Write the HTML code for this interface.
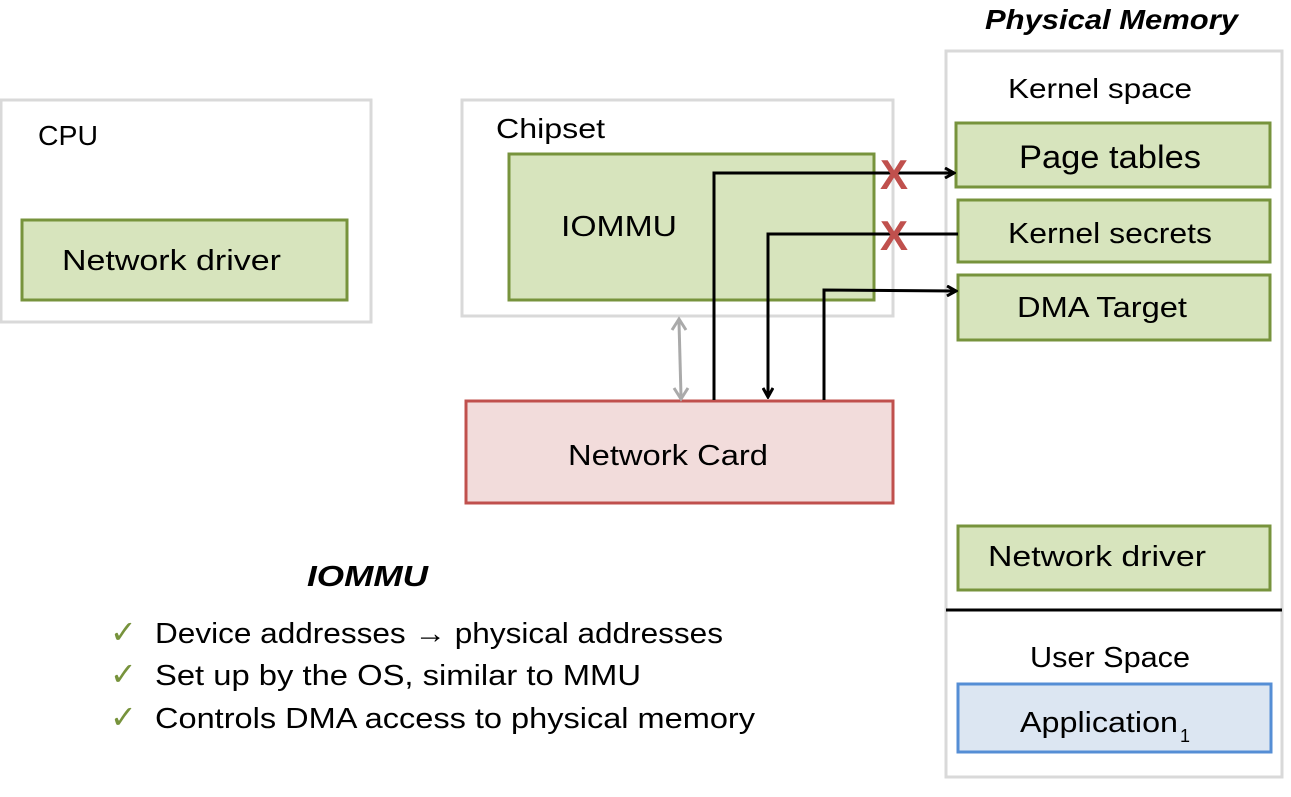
<!DOCTYPE html>
<html><head><meta charset="utf-8"><style>
body{margin:0;background:#fff;width:1291px;height:792px;overflow:hidden}
text{font-family:"Liberation Sans",sans-serif;fill:#000}
</style></head><body>
<svg width="1291" height="792" xmlns="http://www.w3.org/2000/svg">
<defs><marker id="a" markerWidth="12" markerHeight="12" refX="10" refY="6" orient="auto" markerUnits="userSpaceOnUse"><path d="M1,1 L10,6 L1,11" fill="none" stroke="#000" stroke-width="3"/></marker></defs>
<!-- CPU -->
<rect x="1" y="100" width="370" height="222" fill="#fff" stroke="#d9d9d9" stroke-width="3"/>
<text x="38" y="145" font-size="28" textLength="60" lengthAdjust="spacingAndGlyphs">CPU</text>
<rect x="22" y="220" width="325" height="80" fill="#d7e4bd" stroke="#77933c" stroke-width="3"/>
<text x="62" y="270" font-size="29" textLength="219" lengthAdjust="spacingAndGlyphs">Network driver</text>
<!-- Chipset -->
<rect x="462" y="100" width="431" height="216" fill="#fff" stroke="#d9d9d9" stroke-width="3"/>
<text x="496" y="138" font-size="28" textLength="109" lengthAdjust="spacingAndGlyphs">Chipset</text>
<rect x="509" y="154" width="365" height="146" fill="#d7e4bd" stroke="#77933c" stroke-width="3"/>
<text x="561" y="236" font-size="29" textLength="116" lengthAdjust="spacingAndGlyphs">IOMMU</text>
<!-- Network card -->
<rect x="466" y="401" width="427" height="102" fill="#f2dcdb" stroke="#c0504d" stroke-width="3"/>
<text x="568" y="465" font-size="29" textLength="200" lengthAdjust="spacingAndGlyphs">Network Card</text>
<!-- gray arrow -->
<line x1="679" y1="322" x2="681" y2="396" stroke="#aaa" stroke-width="3"/>
<path d="M672,330 L679,319 L686,330 M674,388 L681,399 L688,388" fill="none" stroke="#aaa" stroke-width="3"/>
<!-- Physical memory -->
<text x="985" y="29" font-size="28" font-weight="bold" font-style="italic" textLength="253" lengthAdjust="spacingAndGlyphs">Physical Memory</text>
<rect x="946" y="51" width="336" height="726" fill="#fff" stroke="#d9d9d9" stroke-width="3"/>
<text x="1008" y="98" font-size="28" textLength="184" lengthAdjust="spacingAndGlyphs">Kernel space</text>
<rect x="956" y="123" width="314" height="64" fill="#d7e4bd" stroke="#77933c" stroke-width="3"/>
<text x="1019" y="168" font-size="32" textLength="182" lengthAdjust="spacingAndGlyphs">Page tables</text>
<rect x="958" y="200" width="312" height="62" fill="#d7e4bd" stroke="#77933c" stroke-width="3"/>
<text x="1008" y="243" font-size="29" textLength="204" lengthAdjust="spacingAndGlyphs">Kernel secrets</text>
<rect x="958" y="275" width="312" height="65" fill="#d7e4bd" stroke="#77933c" stroke-width="3"/>
<text x="1017" y="317" font-size="29" textLength="170" lengthAdjust="spacingAndGlyphs">DMA Target</text>
<rect x="958" y="526" width="312" height="64" fill="#d7e4bd" stroke="#77933c" stroke-width="3"/>
<text x="988" y="566" font-size="29" textLength="218" lengthAdjust="spacingAndGlyphs">Network driver</text>
<line x1="946" y1="610" x2="1282" y2="610" stroke="#000" stroke-width="3"/>
<text x="1030" y="667" font-size="29" textLength="160" lengthAdjust="spacingAndGlyphs">User Space</text>
<rect x="958" y="684" width="313" height="68" fill="#dce6f2" stroke="#558ed5" stroke-width="3"/>
<text x="1020" y="732" font-size="29" textLength="158" lengthAdjust="spacingAndGlyphs">Application</text>
<text x="1180" y="742" font-size="18">1</text>
<!-- arrows -->
<polyline points="714,400 714,173 954,173" fill="none" stroke="#000" stroke-width="3" marker-end="url(#a)"/>
<polyline points="958,234 768,234 768,397" fill="none" stroke="#000" stroke-width="3" marker-end="url(#a)"/>
<polyline points="824,400 824,290 956,291" fill="none" stroke="#000" stroke-width="3" marker-end="url(#a)"/>
<text x="894" y="189" font-size="42" font-weight="bold" style="fill:#c0504d" text-anchor="middle">X</text>
<text x="894" y="250" font-size="42" font-weight="bold" style="fill:#c0504d" text-anchor="middle">X</text>
<!-- IOMMU list -->
<text x="307" y="586" font-size="29" font-weight="bold" font-style="italic" textLength="121" lengthAdjust="spacingAndGlyphs">IOMMU</text>
<g font-size="29">
<text x="110" y="643" font-size="32" style="fill:#77933c">✓</text><text x="155" y="643" textLength="568" lengthAdjust="spacingAndGlyphs">Device addresses → physical addresses</text>
<text x="110" y="685" font-size="32" style="fill:#77933c">✓</text><text x="155" y="685" textLength="486" lengthAdjust="spacingAndGlyphs">Set up by the OS, similar to MMU</text>
<text x="110" y="728" font-size="32" style="fill:#77933c">✓</text><text x="155" y="728" textLength="600" lengthAdjust="spacingAndGlyphs">Controls DMA access to physical memory</text>
</g>
</svg>
</body></html>
